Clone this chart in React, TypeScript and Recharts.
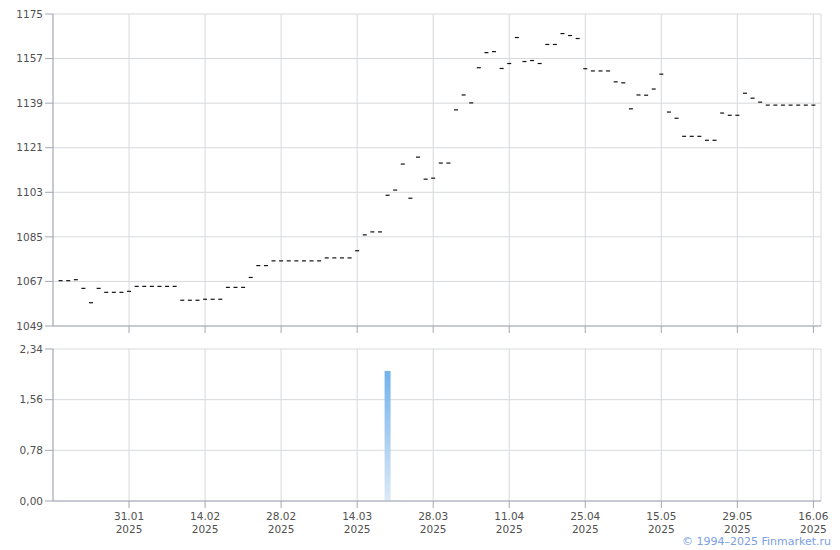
import React from 'react';
import {
  ScatterChart, Scatter, ComposedChart, Bar, XAxis, YAxis, CartesianGrid
} from 'recharts';

// trading-day closes, index 0 = first day on the chart
const closes = [
  1067.3, 1067.3, 1067.7, 1064.2, 1058.4, 1064.2, 1062.6, 1062.6, 1062.6, 1063.0,
  1065.0, 1065.0, 1065.0, 1065.0, 1065.0, 1065.0, 1059.4, 1059.4, 1059.4, 1059.8,
  1059.8, 1059.8, 1064.6, 1064.6, 1064.6, 1068.6, 1073.4, 1073.4, 1075.3, 1075.3,
  1075.3, 1075.3, 1075.3, 1075.3, 1075.3, 1076.5, 1076.5, 1076.5, 1076.5, 1079.4,
  1085.8, 1087.0, 1087.0, 1101.8, 1103.9, 1114.4, 1100.6, 1117.2, 1108.3, 1108.7,
  1114.8, 1114.8, 1136.3, 1142.3, 1139.1, 1153.3, 1159.4, 1159.8, 1153.0, 1155.0,
  1165.5, 1155.8, 1156.2, 1155.0, 1162.7, 1162.7, 1167.1, 1166.3, 1165.1, 1152.9,
  1152.0, 1152.0, 1152.0, 1147.6, 1147.2, 1136.7, 1142.3, 1142.2, 1144.7, 1150.7,
  1135.4, 1132.9, 1125.6, 1125.6, 1125.6, 1124.0, 1124.0, 1135.0, 1134.1, 1134.1,
  1143.0, 1141.0, 1139.4, 1138.2, 1138.2, 1138.2, 1138.2, 1138.2, 1138.2, 1138.2
];

// only one day had trading volume
const volumeDays = [43];
const volumes = [2.0];

const tickDays = [9, 19, 29, 39, 49, 59, 69, 79, 89, 99];
const tickDates = ['31.01', '14.02', '28.02', '14.03', '28.03', '11.04', '25.04', '15.05', '29.05', '16.06'];
const tickYear = '2025';

const priceTicks = [1049, 1067, 1085, 1103, 1121, 1139, 1157, 1175];
const volumeTicks = [0, 0.78, 1.56, 2.34];

const FONT = "'DejaVu Sans', Verdana, sans-serif";
const AXIS = '#a4a6b4';
const GRID = '#d6d9dc';
const LABEL = '#505050';

const priceData = closes.map((y, i) => ({ x: i, y }));
const volumeData = volumeDays.map((x, i) => ({ x, v: volumes[i] }));

const Dash = (props: any) => {
  const { cx, cy } = props;
  if (cx == null || cy == null) return null;
  return <line x1={cx - 2} x2={cx + 2} y1={cy} y2={cy} stroke="#111" strokeWidth={1.2} />;
};

const DateTick = (props: any) => {
  const { x, y, payload } = props;
  const i = tickDays.indexOf(payload.value);
  return (
    <text x={x} y={y} textAnchor="middle" fill={LABEL} fontSize={10.5} fontFamily={FONT}>
      <tspan x={x} dy={10}>{tickDates[i]}</tspan>
      <tspan x={x} dy={13}>{tickYear}</tspan>
    </text>
  );
};

const xDomain: [number, number] = [-1, 100];

export default function App() {
  return (
    <div style={{ position: 'absolute', left: 0, top: 0, width: 840, height: 550, background: '#fff' }}>
      <div style={{ position: 'absolute', left: 0, top: 0 }}>
        <ScatterChart width={840} height={340} margin={{ top: 14, right: 19, left: 0, bottom: 0 }}>
          <CartesianGrid stroke={GRID} />
          <XAxis
            type="number"
            dataKey="x"
            domain={xDomain}
            ticks={tickDays}
            interval={0}
            height={14}
            tickSize={7}
            stroke={AXIS}
            tick={() => <g />}
          />
          <YAxis
            type="number"
            dataKey="y"
            domain={[1049, 1175]}
            ticks={priceTicks}
            interval={0}
            width={53}
            tickSize={8}
            stroke={AXIS}
            tick={{ fill: LABEL, fontSize: 10.5, fontFamily: FONT }}
          />
          <Scatter data={priceData} shape={<Dash />} isAnimationActive={false} />
        </ScatterChart>
      </div>
      <div style={{ position: 'absolute', left: 0, top: 335 }}>
        <ComposedChart width={840} height={215} data={volumeData} margin={{ top: 14, right: 19, left: 0, bottom: 0 }}>
          <defs>
            <linearGradient id="volFill" x1="0" y1="0" x2="0" y2="1">
              <stop offset="0%" stopColor="#72b3eb" />
              <stop offset="100%" stopColor="#dde9f7" />
            </linearGradient>
          </defs>
          <CartesianGrid stroke={GRID} />
          <XAxis
            type="number"
            dataKey="x"
            domain={xDomain}
            ticks={tickDays}
            interval={0}
            height={49}
            tickSize={7}
            stroke={AXIS}
            tick={<DateTick />}
          />
          <YAxis
            type="number"
            domain={[0, 2.34]}
            ticks={volumeTicks}
            interval={0}
            width={53}
            tickSize={8}
            stroke={AXIS}
            tickFormatter={(v: number) => v.toFixed(2).replace('.', ',')}
            tick={{ fill: LABEL, fontSize: 10.5, fontFamily: FONT }}
          />
          <Bar dataKey="v" barSize={6} fill="url(#volFill)" isAnimationActive={false} />
        </ComposedChart>
      </div>
      <div style={{
        position: 'absolute', right: 9, top: 535, fontFamily: FONT, fontSize: 11,
        color: '#7b9ee4', lineHeight: '14px'
      }}>
        © 1994–2025 Finmarket.ru
      </div>
    </div>
  );
}
